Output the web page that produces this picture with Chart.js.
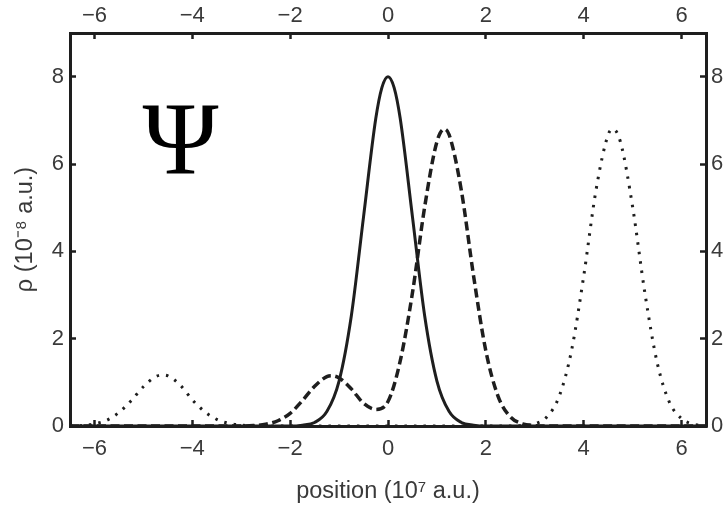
<!DOCTYPE html>
<html>
<head>
<meta charset="utf-8">
<script src="https://cdn.jsdelivr.net/npm/chart.js@4/dist/chart.umd.min.js"></script>
<style>
  html, body { margin: 0; padding: 0; background: #fff; }
  #wrap { width: 728px; height: 509px; }
</style>
</head>
<body>
<div id="wrap"><canvas id="density" width="728" height="509"></canvas></div>
<script>
// position in 10^7 a.u., density rho in 10^-8 a.u.
const xTicks = [-6, -4, -2, 0, 2, 4, 6];
const yTicks = [0, 2, 4, 6, 8];

// solid: initial packet
const solidX = [-6.5, -2.25, -2, -1.75, -1.5, -1.25, -1, -0.75, -0.5, -0.25, -0.125, 0, 0.125, 0.25, 0.5, 0.75, 1, 1.25, 1.5, 1.75, 2, 2.25, 6.5];
const solidY = [0, 0, 0, 0.02, 0.08, 0.33, 1.03, 2.52, 4.79, 7.04, 7.75, 8, 7.75, 7.04, 4.79, 2.52, 1.03, 0.33, 0.08, 0.02, 0, 0, 0];

// dashed: split packet, small reflected part
const dashedX = [-6.5, -3, -2.75, -2.5, -2.25, -2, -1.75, -1.5, -1.25, -1.15, -1, -0.75, -0.5, -0.25, 0, 0.25, 0.5, 0.75, 1, 1.15, 1.25, 1.5, 1.75, 2, 2.25, 2.5, 2.75, 3, 3.25, 6.5];
const dashedY = [0, 0, 0.01, 0.04, 0.12, 0.29, 0.58, 0.91, 1.13, 1.15, 1.1, 0.85, 0.52, 0.38, 0.56, 1.49, 3.05, 5.02, 6.51, 6.8, 6.67, 5.39, 3.43, 1.72, 0.68, 0.21, 0.05, 0.01, 0, 0];

// dotted: later time, packets far apart
const dottedX = [-6.5, -6.25, -6, -5.75, -5.5, -5.25, -5, -4.75, -4.6, -4.5, -4.25, -4, -3.75, -3.5, -3.25, -3, -2.75, 2.5, 2.75, 3, 3.25, 3.5, 3.75, 4, 4.25, 4.5, 4.6, 4.75, 5, 5.25, 5.5, 5.75, 6, 6.25, 6.5];
const dottedY = [0, 0.01, 0.05, 0.13, 0.31, 0.58, 0.9, 1.13, 1.17, 1.15, 0.94, 0.6, 0.33, 0.15, 0.06, 0.02, 0, 0, 0.01, 0.05, 0.21, 0.68, 1.72, 3.43, 5.39, 6.67, 6.8, 6.51, 5.02, 3.05, 1.46, 0.55, 0.17, 0.04, 0.01];

const ink = '#1e1e1e';
const labelInk = '#3a3a3a';
const sans = '"Liberation Sans", Arial, Helvetica, sans-serif';
const psiAt = [-4.24, 5.77];

function points(xs, ys) {
    return xs.map((x, i) => ({x: x, y: ys[i]}));
}

function signed(v) {
    return v < 0 ? '\u2212' + (-v) : String(v);
}

function frameAxis(position, ticks, padding, size) {
    const horizontal = position === 'top' || position === 'bottom';
    return {
        type: 'linear',
        position: position,
        min: horizontal ? -6.5 : 0,
        max: horizontal ? 6.5 : 9,
        afterBuildTicks: (scale) => {
            scale.ticks = ticks.map((v) => ({value: v}));
        },
        afterFit: (scale) => {
            if (horizontal) scale.height = size;
            else scale.width = size;
        },
        ticks: {
            color: labelInk,
            font: {family: sans, size: 22},
            padding: padding,
            maxRotation: 0,
            autoSkip: false,
            callback: signed
        },
        grid: {
            drawOnChartArea: false,
            drawTicks: true,
            tickLength: -6,
            tickColor: ink,
            tickWidth: 2.5
        },
        border: {display: true, color: ink, width: 3}
    };
}

const psiLabel = {
    id: 'psiLabel',
    afterDatasetsDraw(chart) {
        const {ctx, scales} = chart;
        ctx.save();
        ctx.font = '103px "Liberation Serif", "Times New Roman", serif';
        ctx.fillStyle = '#000';
        ctx.textAlign = 'center';
        ctx.textBaseline = 'alphabetic';
        ctx.fillText('\u03A8', scales.x.getPixelForValue(psiAt[0]), scales.y.getPixelForValue(psiAt[1]));
        ctx.restore();
    }
};

const xAxis = frameAxis('bottom', xTicks, 16, 83);
xAxis.title = {
    display: true,
    text: 'position (10\u2077 a.u.)',
    color: labelInk,
    font: {family: sans, size: 23.5},
    padding: {top: 0, bottom: 3}
};
const yAxis = frameAxis('left', yTicks, 12, 70);
yAxis.title = {
    display: true,
    text: '\u03C1 (10\u207B\u2078 a.u.)',
    color: labelInk,
    font: {family: sans, size: 23.5},
    padding: {top: 11, bottom: 0}
};

const line = (xs, ys, width, dash) => ({
    data: points(xs, ys),
    borderColor: ink,
    borderWidth: width,
    borderDash: dash,
    borderCapStyle: 'butt',
    pointRadius: 0,
    fill: false,
    cubicInterpolationMode: 'monotone',
    xAxisID: 'x',
    yAxisID: 'y'
});

new Chart(document.getElementById('density'), {
    type: 'line',
    data: {
        datasets: [
            line(solidX, solidY, 3, []),
            line(dashedX, dashedY, 3.5, [9, 4.5]),
            line(dottedX, dottedY, 3, [2.5, 7])
        ]
    },
    options: {
        responsive: false,
        animation: false,
        layout: {padding: 0},
        scales: {
            x: xAxis,
            x2: frameAxis('top', xTicks, 10, 33),
            y: yAxis,
            y2: frameAxis('right', yTicks, 11, 22)
        },
        plugins: {
            legend: {display: false},
            tooltip: {enabled: false}
        }
    },
    plugins: [psiLabel]
});
</script>
</body>
</html>
